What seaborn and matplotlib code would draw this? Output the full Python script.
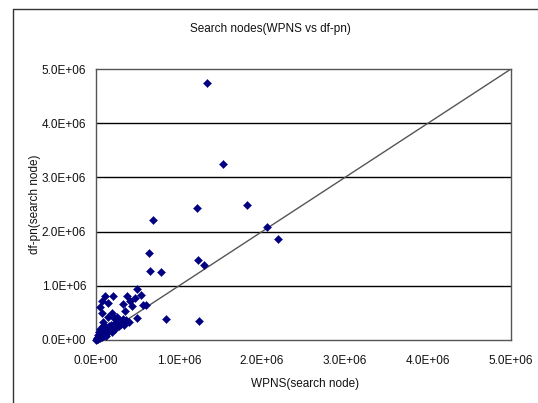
import matplotlib
matplotlib.use("Agg")
import matplotlib.pyplot as plt
import seaborn as sns
import pandas as pd
from matplotlib.ticker import FuncFormatter, MultipleLocator
from matplotlib.lines import Line2D

# WPNS search nodes (x) and df-pn search nodes (y), in millions
wpns_m = [1.337, 1.53, 1.82, 1.22, 0.69, 2.06, 2.19, 0.64, 1.23, 1.30, 0.65, 0.78,
          1.24, 0.84, 0.60,
          0.108, 0.205, 0.37, 0.49, 0.54, 0.47, 0.145, 0.05, 0.07, 0.325, 0.43, 0.41,
          0.57, 0.35, 0.49, 0.40, 0.145, 0.084, 0.25, 0.28, 0.07, 0.19, 0.22,
          0.01, 0.02, 0.03, 0.04, 0.05, 0.06, 0.07, 0.08, 0.09, 0.10, 0.11, 0.12,
          0.13, 0.14, 0.15, 0.16, 0.17, 0.18, 0.20, 0.22, 0.24, 0.26, 0.28, 0.30,
          0.32, 0.34, 0.36, 0.05, 0.08, 0.03, 0.02, 0.015, 0.005, 0.01, 0.04, 0.06,
          0.12, 0.19, 0.23, 0.10]
dfpn_m = [4.74, 3.25, 2.49, 2.44, 2.21, 2.08, 1.86, 1.61, 1.48, 1.38, 1.27, 1.25,
          0.35, 0.39, 0.65,
          0.82, 0.82, 0.82, 0.94, 0.83, 0.77, 0.68, 0.61, 0.72, 0.67, 0.63, 0.72,
          0.65, 0.535, 0.41, 0.33, 0.42, 0.33, 0.42, 0.33, 0.50, 0.50, 0.41,
          0.01, 0.03, 0.02, 0.06, 0.04, 0.09, 0.05, 0.12, 0.08, 0.15, 0.10, 0.18,
          0.13, 0.22, 0.16, 0.25, 0.20, 0.28, 0.24, 0.30, 0.27, 0.35, 0.25, 0.30,
          0.38, 0.28, 0.36, 0.20, 0.25, 0.10, 0.06, 0.015, 0.005, 0.04, 0.14, 0.18,
          0.08, 0.15, 0.20, 0.28]

grid_values_m = [1, 2, 3, 4]

title = "Search nodes(WPNS vs df-pn)"
xlabel = "WPNS(search node)"
ylabel = "df-pn(search node)"

df = pd.DataFrame({"wpns": [v * 1e6 for v in wpns_m],
                   "dfpn": [v * 1e6 for v in dfpn_m]})

sns.set_style("white")
plt.rcParams["font.family"] = ["Liberation Sans", "DejaVu Sans"]

W, H = 538, 403
fig = plt.figure(figsize=(W / 100, H / 100), dpi=100)
fig.patch.set_facecolor("white")
# outer chart frame (left and top edges visible)
fig.add_artist(Line2D([12.5 / W, 12.5 / W], [0, 1 - 8.5 / H],
                      transform=fig.transFigure, color="#333333", linewidth=1.0))
fig.add_artist(Line2D([12.5 / W, 1], [1 - 8.5 / H, 1 - 8.5 / H],
                      transform=fig.transFigure, color="#333333", linewidth=1.0))

ax = fig.add_axes([96 / W, 1 - 340 / H, 415 / W, 271 / H])
ax.set_xlim(0, 5e6)
ax.set_ylim(0, 5e6)

for yv in grid_values_m:
    ax.axhline(yv * 1e6, color="black", linewidth=1.0, zorder=1)
ax.axline((0, 0), slope=1, color="#555555", linewidth=1.0, zorder=2)

sns.scatterplot(data=df, x="wpns", y="dfpn", marker="D", s=17,
                color="#000080", edgecolor="#000080", linewidth=0.3,
                ax=ax, zorder=3, clip_on=False, legend=False)

fmt = FuncFormatter(lambda v, p: f"{v:.1E}")
ax.xaxis.set_major_locator(MultipleLocator(1e6))
ax.yaxis.set_major_locator(MultipleLocator(1e6))
ax.xaxis.set_major_formatter(fmt)
ax.yaxis.set_major_formatter(fmt)
ax.tick_params(axis="x", direction="in", length=4, width=1, color="#333333",
               labelsize=8.5, pad=11, labelcolor="#111111")
ax.tick_params(axis="y", direction="out", length=0, labelsize=8.5, pad=7,
               labelcolor="#111111")
for s in ax.spines.values():
    s.set_color("#555555")
    s.set_linewidth(1.0)

ax.set_xlabel(xlabel, fontsize=8.5, color="#111111", va="center")
ax.set_ylabel(ylabel, fontsize=8.5, color="#111111", va="center")
ax.xaxis.set_label_coords(305 / W, 1 - 384 / H, transform=fig.transFigure)
ax.yaxis.set_label_coords(35 / W, 1 - 204 / H, transform=fig.transFigure)
fig.text(270 / W, 1 - 29 / H, title, ha="center", va="center",
         fontsize=8.5, color="#111111")

fig.savefig("out.png", dpi=100, facecolor="white")
